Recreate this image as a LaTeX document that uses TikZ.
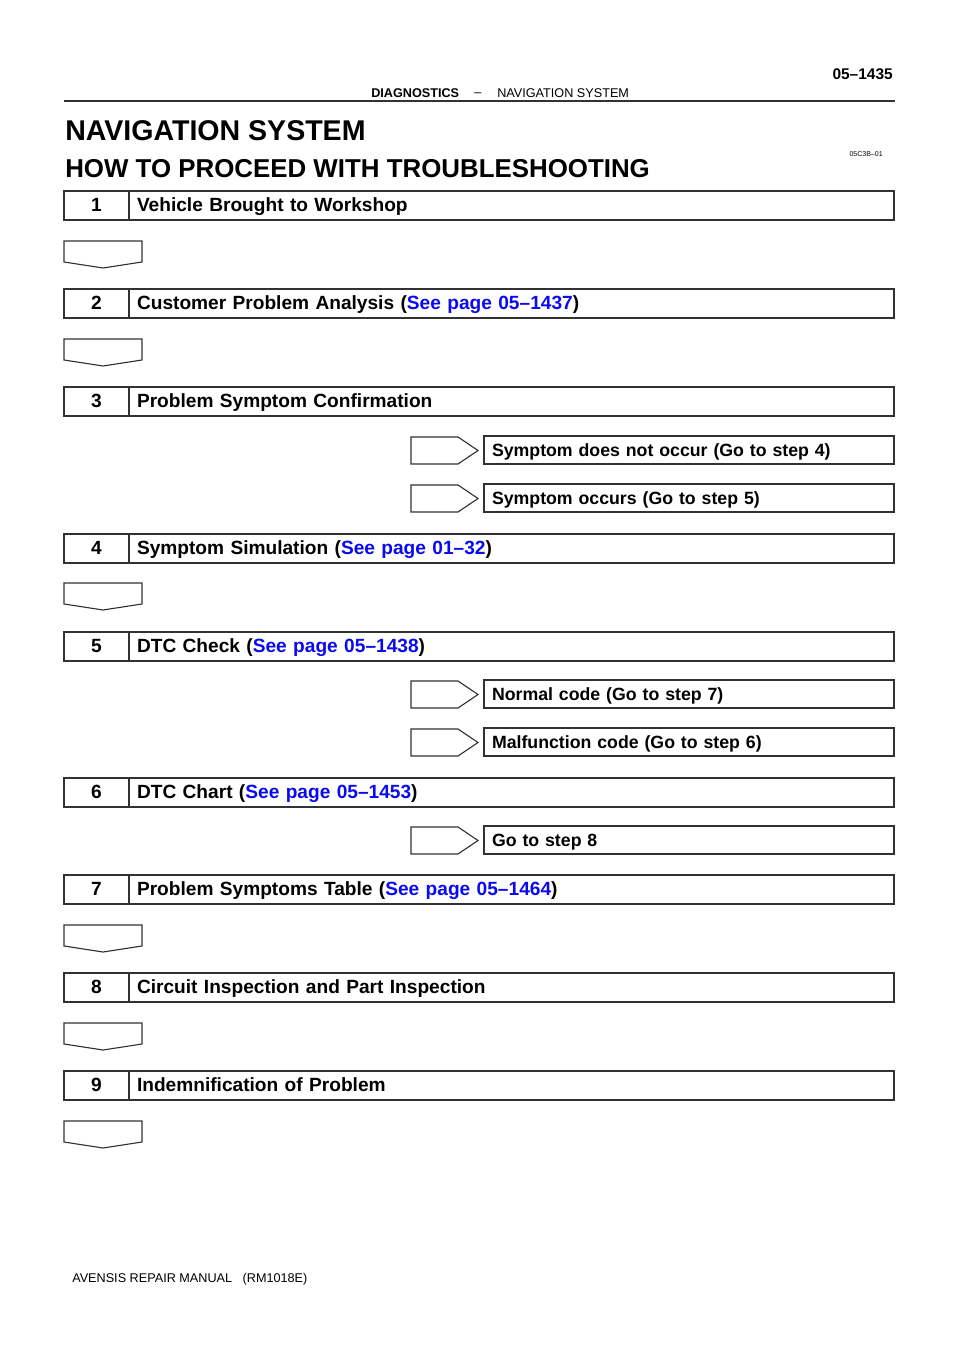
\documentclass[tikz,border=0pt]{standalone}
\usepackage{fontspec}
\setmainfont{Liberation Sans}
\usetikzlibrary{positioning}
\definecolor{linkblue}{RGB}{10,10,240}
\definecolor{inkgray}{RGB}{50,50,50}
\newcommand{\seepage}[1]{\textcolor{linkblue}{See page #1}}

\begin{document}
\begin{tikzpicture}[x=0.025cm, y=-0.025cm,
    numbox/.style={draw=inkgray, line width=1.1pt, outer sep=0pt, anchor=north west,
      minimum width=1.625cm, minimum height=0.725cm, inner sep=0pt,
      font=\fontsize{13.6}{15}\selectfont\bfseries, text height=0.9em, text depth=0pt},
    textbox/.style={draw=inkgray, line width=1.1pt, outer sep=0pt, right=0pt of #1,
      text width=18.725cm, align=left, minimum height=0.725cm, inner xsep=0.2cm, inner ysep=0pt,
      font=\fontsize{13.6}{15}\selectfont\bfseries, text height=0.9em, text depth=0pt},
    resbox/.style={draw=inkgray, line width=0.9pt, outer sep=0pt, anchor=north west,
      text width=9.85cm, align=left, minimum height=0.7cm, inner xsep=0.2cm, inner ysep=0pt,
      font=\fontsize{12.6}{14}\selectfont\bfseries, text height=0.9em, text depth=0pt},
    arrowline/.style={draw=inkgray, line width=0.8pt, line join=miter},
    downarrow/.pic={\draw[arrowline] (0,0) -- (78,0) -- (78,21) -- (39,27) -- (0,21) -- cycle;},
    rightarrow/.pic={\draw[arrowline] (0,0) -- (47,0) -- (67,13.5) -- (47,27) -- (0,27) -- cycle;}]

    % Page frame
    \useasboundingbox (0,0) rectangle (960,1358);

    % Header
    \node (pageno) [anchor=east, inner sep=0pt, font=\fontsize{11}{12}\selectfont\bfseries] at (893,74) {05--1435};
    \node (hdleft) [anchor=west, inner sep=0pt, font=\fontsize{9}{10}\selectfont\bfseries] at (371,93) {DIAGNOSTICS};
    \node (hddash) [inner sep=0pt, font=\fontsize{9}{10}\selectfont] at (478,95) {--};
    \node (hdright) [anchor=west, inner sep=0pt, font=\fontsize{9}{10}\selectfont] at (497,93) {NAVIGATION SYSTEM};
    \draw[inkgray, line width=1.4pt] (64,101) -- (895,101);

    % Titles
    \node (title) [anchor=west, inner sep=0pt, font=\fontsize{20.3}{22}\selectfont\bfseries] at (65,131) {NAVIGATION SYSTEM};
    \node (subtitle) [anchor=west, inner sep=0pt, font=\fontsize{18.4}{20}\selectfont\bfseries] at (65,169) {HOW TO PROCEED WITH TROUBLESHOOTING};
    \node (code) [anchor=east, inner sep=0pt, font=\fontsize{5}{6}\selectfont] at (883,154) {05C3B--01};

    % Steps
    \node (n1) [numbox] at (64,191) {1};
    \node (step1) [textbox=n1] {Vehicle Brought to Workshop};
    \pic at (64,241) {downarrow};

    \node (n2) [numbox] at (64,289) {2};
    \node (step2) [textbox=n2] {Customer Problem Analysis (\seepage{05--1437})};
    \pic at (64,339) {downarrow};

    \node (n3) [numbox] at (64,387) {3};
    \node (step3) [textbox=n3] {Problem Symptom Confirmation};
    \pic at (411,437) {rightarrow};
    \node (res3a) [resbox] at (484,436) {Symptom does not occur (Go to step 4)};
    \pic at (411,485) {rightarrow};
    \node (res3b) [resbox] at (484,484) {Symptom occurs (Go to step 5)};

    \node (n4) [numbox] at (64,534) {4};
    \node (step4) [textbox=n4] {Symptom Simulation (\seepage{01--32})};
    \pic at (64,583) {downarrow};

    \node (n5) [numbox] at (64,632) {5};
    \node (step5) [textbox=n5] {DTC Check (\seepage{05--1438})};
    \pic at (411,681) {rightarrow};
    \node (res5a) [resbox] at (484,680) {Normal code (Go to step 7)};
    \pic at (411,729) {rightarrow};
    \node (res5b) [resbox] at (484,728) {Malfunction code (Go to step 6)};

    \node (n6) [numbox] at (64,778) {6};
    \node (step6) [textbox=n6] {DTC Chart (\seepage{05--1453})};
    \pic at (411,827) {rightarrow};
    \node (res6) [resbox] at (484,826) {Go to step 8};

    \node (n7) [numbox] at (64,875) {7};
    \node (step7) [textbox=n7] {Problem Symptoms Table (\seepage{05--1464})};
    \pic at (64,925) {downarrow};

    \node (n8) [numbox] at (64,973) {8};
    \node (step8) [textbox=n8] {Circuit Inspection and Part Inspection};
    \pic at (64,1023) {downarrow};

    \node (n9) [numbox] at (64,1071) {9};
    \node (step9) [textbox=n9] {Indemnification of Problem};
    \pic at (64,1121) {downarrow};

    % Footer
    \node (footer) [anchor=west, inner sep=0pt, font=\fontsize{9}{10}\selectfont] at (72,1279) {AVENSIS REPAIR MANUAL \ \ (RM1018E)};
\end{tikzpicture}
\end{document}
